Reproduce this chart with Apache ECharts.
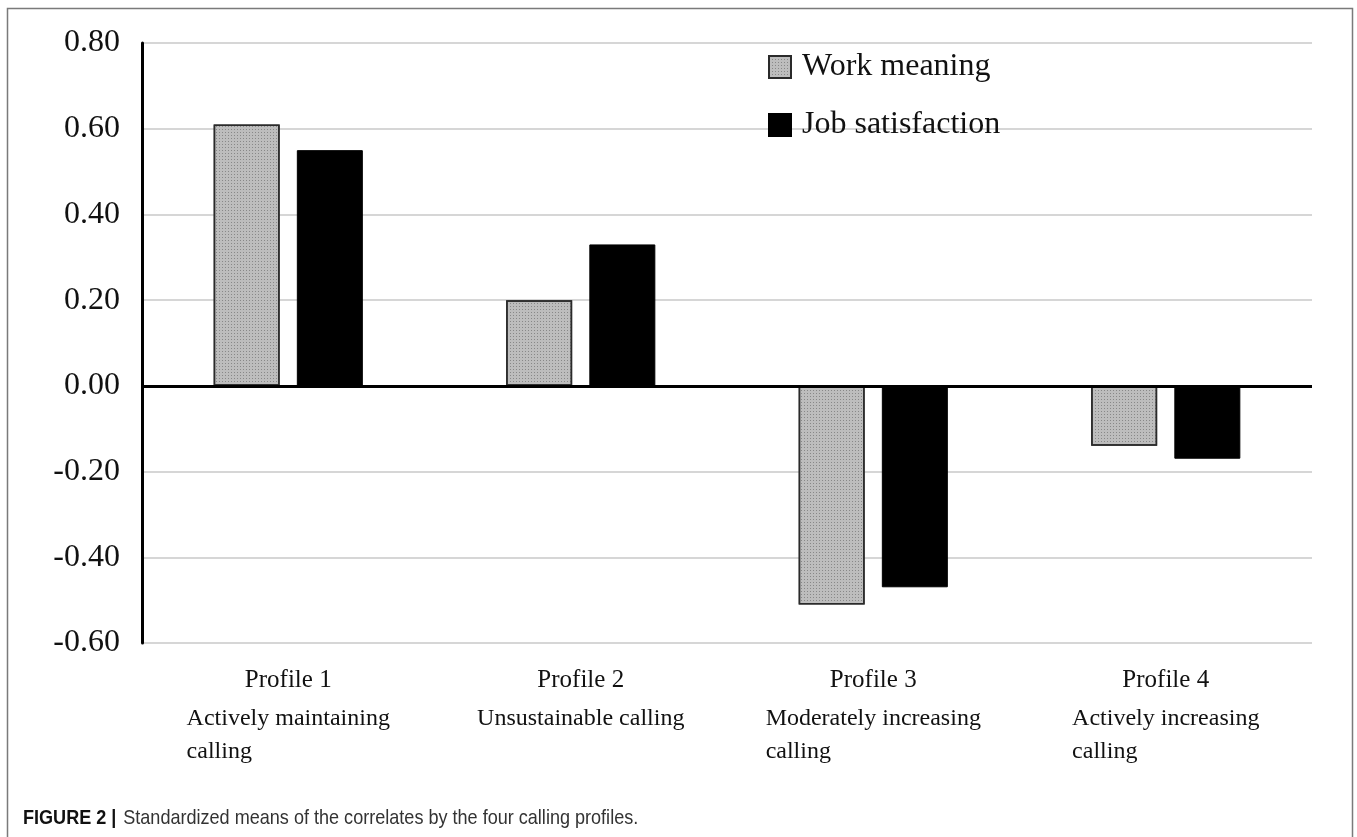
<!DOCTYPE html>
<html>
<head>
<meta charset="utf-8">
<script src="https://cdn.jsdelivr.net/npm/echarts@6/dist/echarts.min.js"></script>
<style>
  html, body { margin: 0; padding: 0; background: #fff; }
  #chart { width: 1357px; height: 837px; }
</style>
</head>
<body>
<div id="chart"></div>
<script>
// data
var profiles = ['Profile 1', 'Profile 2', 'Profile 3', 'Profile 4']
var profileNames = ['Actively maintaining\ncalling', 'Unsustainable calling', 'Moderately increasing\ncalling', 'Actively increasing\ncalling']
var workMeaning = [0.61, 0.20, -0.51, -0.14]
var jobSatisfaction = [0.55, 0.33, -0.47, -0.17]
var yTicks = [-0.6, 0.8, 0.2] // min, max, step

var serif = '"Liberation Serif", "Times New Roman", serif'
var sans = '"Liberation Sans", Arial, sans-serif'
var chart = echarts.init(document.getElementById('chart'))

var option = {
  backgroundColor: '#fff',
  animation: false,
  grid: { left: 142, right: 45, top: 43, bottom: 194 },
  legend: {
    orient: 'vertical',
    left: 763,
    top: 46,
    itemWidth: 22,
    itemHeight: 22,
    itemGap: 26,
    icon: 'rect',
    textStyle: { fontFamily: serif, fontSize: 32, color: '#111', padding: [0, 0, 0, 6] },
    data: ['Work meaning', 'Job satisfaction']
  },
  xAxis: {
    type: 'category',
    data: profiles,
    axisLine: { show: false, onZero: false },
    axisTick: { show: false },
    axisLabel: {
      interval: 0,
      margin: 15,
      formatter: function (v, i) {
        var lines = profileNames[i].split('\n').map(function (s) { return '{d|' + s + '}' })
        return '{p|' + v + '}\n' + lines.join('\n')
      },
      rich: {
        p: { fontFamily: serif, fontSize: 25, color: '#111', lineHeight: 44, align: 'center' },
        d: { fontFamily: serif, fontSize: 24, color: '#111', lineHeight: 33, align: 'left' }
      }
    }
  },
  yAxis: {
    type: 'value',
    min: yTicks[0],
    max: yTicks[1],
    interval: yTicks[2],
    axisLine: { show: true, lineStyle: { color: '#000', width: 3 } },
    axisTick: { show: false },
    splitLine: { lineStyle: { color: '#d6d6d6', width: 2 } },
    axisLabel: {
      margin: 22,
      fontFamily: serif,
      fontSize: 32,
      color: '#111',
      formatter: function (v) { return Math.abs(v) < 1e-9 ? '0.00' : v.toFixed(2) }
    }
  },
  series: [
    {
      name: 'Work meaning',
      type: 'bar',
      data: workMeaning,
      barWidth: 66,
      barGap: '26%',
      itemStyle: {
        color: '#bdbdbd',
        borderColor: '#2a2a2a',
        borderWidth: 1.5,
        decal: {
          symbol: 'rect',
          symbolSize: 1,
          color: 'rgba(70,70,70,0.45)',
          dashArrayX: [1, 2],
          dashArrayY: [1, 2],
          rotation: 0
        }
      },
      markLine: {
        silent: true,
        symbol: 'none',
        label: { show: false },
        lineStyle: { color: '#000', width: 3, type: 'solid' },
        data: [{ yAxis: 0 }]
      }
    },
    {
      name: 'Job satisfaction',
      type: 'bar',
      data: jobSatisfaction,
      barWidth: 66,
      itemStyle: { color: '#000', borderColor: '#000', borderWidth: 1 }
    }
  ],
  graphic: [
    {
      type: 'rect',
      shape: { x: 7.5, y: 8.5, width: 1345, height: 860 },
      style: { fill: 'none', stroke: '#7a7a7a', lineWidth: 1.5 },
      silent: true
    },
    {
      type: 'text',
      x: 23,
      y: 808,
      scaleX: 0.86,
      style: {
        text: '{b|FIGURE 2 |}{n|Standardized means of the correlates by the four calling profiles.}',
        rich: {
          b: { fontFamily: sans, fontWeight: 'bold', fontSize: 21, fill: '#111' },
          n: { fontFamily: sans, fontSize: 21, fill: '#333', padding: [0, 0, 0, 8] }
        }
      }
    }
  ]
}

chart.setOption(option)
window.addEventListener('resize', function () { chart.resize() })
</script>
</body>
</html>
